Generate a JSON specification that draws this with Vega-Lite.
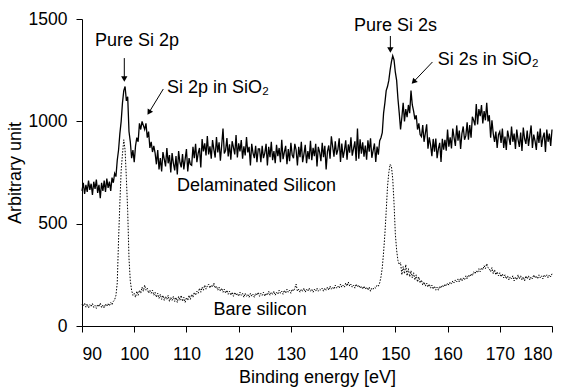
{
  "$schema": "https://vega.github.io/schema/vega-lite/v6.json",
  "width": 470,
  "height": 307,
  "autosize": {"type": "none"},
  "padding": {"left": 82, "top": 19, "right": 16, "bottom": 63},
  "background": "white",
  "config": {
    "view": {"stroke": null},
    "font": "Liberation Sans",
    "axis": {
      "domainColor": "black", "tickColor": "black", "labelColor": "black", "titleColor": "black",
      "labelFont": "Liberation Sans", "titleFont": "Liberation Sans",
      "labelFontSize": 17.5, "titleFontSize": 18, "titleFontWeight": "normal",
      "grid": false, "tickSize": 6, "domainWidth": 1, "tickWidth": 1
    }
  },
  "datasets": {
    "xps": [
      {"e":90,"d":660,"b":105},{"e":90.25,"d":700,"b":96},{"e":90.5,"d":645,"b":112},{"e":90.75,"d":690,"b":92},
      {"e":91,"d":655,"b":108},{"e":91.25,"d":710,"b":88},{"e":91.5,"d":665,"b":104},{"e":91.75,"d":695,"b":95},
      {"e":92,"d":640,"b":110},{"e":92.25,"d":705,"b":90},{"e":92.5,"d":670,"b":100},{"e":92.75,"d":715,"b":86},
      {"e":93,"d":650,"b":106},{"e":93.25,"d":690,"b":94},{"e":93.5,"d":625,"b":112},{"e":93.75,"d":700,"b":90},
      {"e":94,"d":660,"b":102},{"e":94.25,"d":710,"b":88},{"e":94.5,"d":655,"b":108},{"e":94.75,"d":720,"b":96},
      {"e":95,"d":675,"b":110},{"e":95.25,"d":705,"b":98},{"e":95.5,"d":660,"b":115},{"e":95.75,"d":725,"b":104},
      {"e":96,"d":700,"b":120},{"e":96.25,"d":745,"b":128},{"e":96.5,"d":730,"b":150},{"e":96.75,"d":810,"b":210},
      {"e":97,"d":860,"b":420},{"e":97.25,"d":940,"b":600},{"e":97.5,"d":1000,"b":760},{"e":97.75,"d":1090,"b":840},
      {"e":98,"d":1150,"b":910},{"e":98.25,"d":1170,"b":860},{"e":98.5,"d":1100,"b":720},{"e":98.75,"d":1120,"b":560},
      {"e":99,"d":950,"b":330},{"e":99.25,"d":900,"b":220},{"e":99.5,"d":820,"b":175},{"e":99.75,"d":860,"b":150},
      {"e":100,"d":800,"b":160},{"e":100.25,"d":880,"b":140},{"e":100.5,"d":920,"b":170},{"e":100.75,"d":900,"b":150},
      {"e":101,"d":990,"b":175},{"e":101.25,"d":960,"b":160},{"e":101.5,"d":1000,"b":190},{"e":101.75,"d":980,"b":170},
      {"e":102,"d":960,"b":200},{"e":102.25,"d":990,"b":175},{"e":102.5,"d":920,"b":185},{"e":102.75,"d":950,"b":160},
      {"e":103,"d":870,"b":175},{"e":103.25,"d":900,"b":160},{"e":103.5,"d":850,"b":175},{"e":103.75,"d":880,"b":150},
      {"e":104,"d":845,"b":165},{"e":104.25,"d":790,"b":140},{"e":104.5,"d":860,"b":160},{"e":104.75,"d":765,"b":135},
      {"e":105,"d":820,"b":155},{"e":105.25,"d":755,"b":130},{"e":105.5,"d":850,"b":150},{"e":105.75,"d":815,"b":125},
      {"e":106,"d":780,"b":145},{"e":106.25,"d":870,"b":130},{"e":106.5,"d":795,"b":150},{"e":106.75,"d":835,"b":120},
      {"e":107,"d":750,"b":140},{"e":107.25,"d":845,"b":125},{"e":107.5,"d":795,"b":145},{"e":107.75,"d":760,"b":120},
      {"e":108,"d":830,"b":140},{"e":108.25,"d":740,"b":115},{"e":108.5,"d":855,"b":145},{"e":108.75,"d":800,"b":125},
      {"e":109,"d":775,"b":150},{"e":109.25,"d":840,"b":120},{"e":109.5,"d":765,"b":140},{"e":109.75,"d":815,"b":115},
      {"e":110,"d":865,"b":140},{"e":110.25,"d":755,"b":125},{"e":110.5,"d":820,"b":150},{"e":110.75,"d":790,"b":130},
      {"e":111,"d":785,"b":155},{"e":111.25,"d":875,"b":140},{"e":111.5,"d":820,"b":165},{"e":111.75,"d":890,"b":150},
      {"e":112,"d":800,"b":170},{"e":112.25,"d":845,"b":160},{"e":112.5,"d":870,"b":185},{"e":112.75,"d":775,"b":165},
      {"e":113,"d":913,"b":190},{"e":113.25,"d":853,"b":175},{"e":113.5,"d":893,"b":200},{"e":113.75,"d":833,"b":180},
      {"e":114,"d":928,"b":195},{"e":114.25,"d":838,"b":205},{"e":114.5,"d":878,"b":185},{"e":114.75,"d":818,"b":200},
      {"e":115,"d":908,"b":190},{"e":115.25,"d":863,"b":210},{"e":115.5,"d":823,"b":185},{"e":115.75,"d":923,"b":195},
      {"e":116,"d":848,"b":175},{"e":116.25,"d":898,"b":190},{"e":116.5,"d":808,"b":170},{"e":116.75,"d":883,"b":185},
      {"e":117,"d":965,"b":165},{"e":117.25,"d":843,"b":180},{"e":117.5,"d":858,"b":160},{"e":117.75,"d":918,"b":175},
      {"e":118,"d":828,"b":155},{"e":118.25,"d":888,"b":170},{"e":118.5,"d":813,"b":150},{"e":118.75,"d":903,"b":165},
      {"e":119,"d":873,"b":145},{"e":119.25,"d":838,"b":165},{"e":119.5,"d":933,"b":150},{"e":119.75,"d":823,"b":160},
      {"e":120,"d":893,"b":145},{"e":120.25,"d":853,"b":165},{"e":120.5,"d":908,"b":150},{"e":120.75,"d":818,"b":160},
      {"e":121,"d":878,"b":140},{"e":121.25,"d":833,"b":160},{"e":121.5,"d":923,"b":145},{"e":121.75,"d":848,"b":155},
      {"e":122,"d":875,"b":140},{"e":122.25,"d":785,"b":160},{"e":122.5,"d":890,"b":145},{"e":122.75,"d":845,"b":155},
      {"e":123,"d":820,"b":140},{"e":123.25,"d":880,"b":160},{"e":123.5,"d":800,"b":150},{"e":123.75,"d":865,"b":165},
      {"e":124,"d":865,"b":145},{"e":124.25,"d":800,"b":160},{"e":124.5,"d":880,"b":150},{"e":124.75,"d":820,"b":165},
      {"e":125,"d":845,"b":145},{"e":125.25,"d":890,"b":160},{"e":125.5,"d":785,"b":150},{"e":125.75,"d":875,"b":170},
      {"e":126,"d":825,"b":150},{"e":126.25,"d":900,"b":165},{"e":126.5,"d":810,"b":155},{"e":126.75,"d":855,"b":170},
      {"e":127,"d":795,"b":150},{"e":127.25,"d":885,"b":165},{"e":127.5,"d":830,"b":155},{"e":127.75,"d":870,"b":175},
      {"e":128,"d":800,"b":160},{"e":128.25,"d":910,"b":170},{"e":128.5,"d":815,"b":155},{"e":128.75,"d":850,"b":175},
      {"e":129,"d":880,"b":160},{"e":129.25,"d":790,"b":180},{"e":129.5,"d":865,"b":165},{"e":129.75,"d":805,"b":175},
      {"e":130,"d":895,"b":160},{"e":130.25,"d":835,"b":180},{"e":130.5,"d":820,"b":170},{"e":130.75,"d":890,"b":185},
      {"e":131,"d":860,"b":205},{"e":131.25,"d":785,"b":170},{"e":131.5,"d":875,"b":180},{"e":131.75,"d":825,"b":165},
      {"e":132,"d":900,"b":180},{"e":132.25,"d":800,"b":170},{"e":132.5,"d":840,"b":185},{"e":132.75,"d":885,"b":165},
      {"e":133,"d":795,"b":180},{"e":133.25,"d":855,"b":170},{"e":133.5,"d":815,"b":185},{"e":133.75,"d":905,"b":170},
      {"e":134,"d":810,"b":180},{"e":134.25,"d":870,"b":165},{"e":134.5,"d":830,"b":180},{"e":134.75,"d":890,"b":170},
      {"e":135,"d":780,"b":185},{"e":135.25,"d":875,"b":170},{"e":135.5,"d":850,"b":180},{"e":135.75,"d":805,"b":175},
      {"e":136,"d":895,"b":185},{"e":136.25,"d":825,"b":170},{"e":136.5,"d":880,"b":185},{"e":136.75,"d":765,"b":175},
      {"e":137,"d":852,"b":190},{"e":137.25,"d":882,"b":175},{"e":137.5,"d":817,"b":195},{"e":137.75,"d":927,"b":180},
      {"e":138,"d":877,"b":190},{"e":138.25,"d":827,"b":180},{"e":138.5,"d":902,"b":200},{"e":138.75,"d":837,"b":185},
      {"e":139,"d":862,"b":195},{"e":139.25,"d":917,"b":185},{"e":139.5,"d":802,"b":205},{"e":139.75,"d":892,"b":190},
      {"e":140,"d":822,"b":200},{"e":140.25,"d":857,"b":190},{"e":140.5,"d":907,"b":210},{"e":140.75,"d":812,"b":195},
      {"e":141,"d":887,"b":215},{"e":141.25,"d":847,"b":195},{"e":141.5,"d":922,"b":205},{"e":141.75,"d":832,"b":190},
      {"e":142,"d":867,"b":200},{"e":142.25,"d":902,"b":185},{"e":142.5,"d":807,"b":205},{"e":142.75,"d":965,"b":190},
      {"e":143,"d":817,"b":200},{"e":143.25,"d":912,"b":185},{"e":143.5,"d":842,"b":195},{"e":143.75,"d":897,"b":180},
      {"e":144,"d":827,"b":195},{"e":144.25,"d":882,"b":180},{"e":144.5,"d":812,"b":190},{"e":144.75,"d":907,"b":175},
      {"e":145,"d":852,"b":190},{"e":145.25,"d":917,"b":170},{"e":145.5,"d":822,"b":185},{"e":145.75,"d":857,"b":180},
      {"e":146,"d":892,"b":190},{"e":146.25,"d":802,"b":185},{"e":146.5,"d":877,"b":200},{"e":146.75,"d":837,"b":195},
      {"e":147,"d":905,"b":210},{"e":147.25,"d":920,"b":240},{"e":147.5,"d":945,"b":285},{"e":147.75,"d":1040,"b":360},
      {"e":148,"d":1090,"b":450},{"e":148.25,"d":1150,"b":560},{"e":148.5,"d":1170,"b":680},{"e":148.75,"d":1200,"b":750},
      {"e":149,"d":1250,"b":790},{"e":149.25,"d":1290,"b":780},{"e":149.5,"d":1320,"b":720},{"e":149.75,"d":1300,"b":600},
      {"e":150,"d":1240,"b":450},{"e":150.25,"d":1200,"b":370},{"e":150.5,"d":1110,"b":320},{"e":150.75,"d":1040,"b":300},
      {"e":151,"d":960,"b":310},{"e":151.25,"d":1020,"b":250},{"e":151.5,"d":1090,"b":290},{"e":151.75,"d":1000,"b":255},
      {"e":152,"d":1060,"b":300},{"e":152.25,"d":1020,"b":245},{"e":152.5,"d":1080,"b":280},{"e":152.75,"d":1040,"b":240},
      {"e":153,"d":1150,"b":270},{"e":153.25,"d":1080,"b":235},{"e":153.5,"d":1050,"b":260},{"e":153.75,"d":1010,"b":225},
      {"e":154,"d":1030,"b":250},{"e":154.25,"d":960,"b":215},{"e":154.5,"d":990,"b":240},{"e":154.75,"d":935,"b":210},
      {"e":155,"d":925,"b":225},{"e":155.25,"d":982,"b":200},{"e":155.5,"d":900,"b":215},{"e":155.75,"d":942,"b":195},
      {"e":156,"d":985,"b":210},{"e":156.25,"d":866,"b":190},{"e":156.5,"d":922,"b":205},{"e":156.75,"d":884,"b":185},
      {"e":157,"d":830,"b":200},{"e":157.25,"d":914,"b":180},{"e":157.5,"d":852,"b":195},{"e":157.75,"d":916,"b":175},
      {"e":158,"d":820,"b":190},{"e":158.25,"d":867,"b":175},{"e":158.5,"d":895,"b":195},{"e":158.75,"d":802,"b":185},
      {"e":159,"d":915,"b":200},{"e":159.25,"d":862,"b":190},{"e":159.5,"d":910,"b":205},{"e":159.75,"d":857,"b":195},
      {"e":160,"d":960,"b":210},{"e":160.25,"d":876,"b":200},{"e":160.5,"d":922,"b":215},{"e":160.75,"d":868,"b":205},
      {"e":161,"d":965,"b":220},{"e":161.25,"d":920,"b":210},{"e":161.5,"d":880,"b":225},{"e":161.75,"d":980,"b":215},
      {"e":162,"d":905,"b":230},{"e":162.25,"d":955,"b":215},{"e":162.5,"d":865,"b":235},{"e":162.75,"d":940,"b":220},
      {"e":163,"d":975,"b":235},{"e":163.25,"d":910,"b":225},{"e":163.5,"d":930,"b":245},{"e":163.75,"d":995,"b":230},
      {"e":164,"d":910,"b":250},{"e":164.25,"d":982,"b":240},{"e":164.5,"d":920,"b":255},{"e":164.75,"d":1022,"b":245},
      {"e":165,"d":1005,"b":265},{"e":165.25,"d":980,"b":255},{"e":165.5,"d":1085,"b":270},{"e":165.75,"d":985,"b":260},
      {"e":166,"d":1060,"b":280},{"e":166.25,"d":1025,"b":265},{"e":166.5,"d":1080,"b":285},{"e":166.75,"d":990,"b":275},
      {"e":167,"d":1050,"b":295},{"e":167.25,"d":1005,"b":280},{"e":167.5,"d":1090,"b":305},{"e":167.75,"d":1000,"b":285},
      {"e":168,"d":1030,"b":280},{"e":168.25,"d":920,"b":265},{"e":168.5,"d":1005,"b":285},{"e":168.75,"d":940,"b":255},
      {"e":169,"d":900,"b":275},{"e":169.25,"d":950,"b":250},{"e":169.5,"d":870,"b":265},{"e":169.75,"d":935,"b":245},
      {"e":170,"d":950,"b":260},{"e":170.25,"d":895,"b":240},{"e":170.5,"d":965,"b":255},{"e":170.75,"d":870,"b":235},
      {"e":171,"d":925,"b":250},{"e":171.25,"d":860,"b":230},{"e":171.5,"d":955,"b":245},{"e":171.75,"d":920,"b":225},
      {"e":172,"d":885,"b":240},{"e":172.25,"d":975,"b":230},{"e":172.5,"d":900,"b":245},{"e":172.75,"d":940,"b":220},
      {"e":173,"d":865,"b":240},{"e":173.25,"d":960,"b":225},{"e":173.5,"d":910,"b":250},{"e":173.75,"d":875,"b":230},
      {"e":174,"d":945,"b":245},{"e":174.25,"d":855,"b":225},{"e":174.5,"d":970,"b":240},{"e":174.75,"d":915,"b":220},
      {"e":175,"d":890,"b":245},{"e":175.25,"d":955,"b":230},{"e":175.5,"d":880,"b":245},{"e":175.75,"d":930,"b":225},
      {"e":176,"d":980,"b":240},{"e":176.25,"d":870,"b":230},{"e":176.5,"d":935,"b":250},{"e":176.75,"d":905,"b":235},
      {"e":177,"d":860,"b":245},{"e":177.25,"d":950,"b":230},{"e":177.5,"d":895,"b":250},{"e":177.75,"d":965,"b":235},
      {"e":178,"d":875,"b":245},{"e":178.25,"d":920,"b":230},{"e":178.5,"d":945,"b":250},{"e":178.75,"d":850,"b":240},
      {"e":179,"d":960,"b":250},{"e":179.25,"d":900,"b":235},{"e":179.5,"d":940,"b":250},{"e":179.75,"d":880,"b":240},
      {"e":180,"d":960,"b":255}
    ],
    "labels": [
      {"t":"Pure Si 2p","x":100.54,"y":1370,"a":"center"},
      {"t":"Si 2p in SiO₂","x":106.28,"y":1140,"a":"left"},
      {"t":"Pure Si 2s","x":150.02,"y":1443,"a":"center"},
      {"t":"Si 2s in SiO₂","x":158.12,"y":1275,"a":"left"},
      {"t":"Delaminated Silicon","x":108.2,"y":660,"a":"left"},
      {"t":"Bare silicon","x":115.2,"y":54,"a":"left"}
    ],
    "arrows": [
      {"k":"p","x":98.1,"y":1309,"x2":98.1,"y2":1207},
      {"k":"po","x":105.57,"y":1158,"x2":102.82,"y2":1043},
      {"k":"s","x":149.05,"y":1417,"x2":149.05,"y2":1348},
      {"k":"so","x":157.11,"y":1290,"x2":153.49,"y2":1193}
    ]
  },
  "layer": [
    {
      "data": {"name": "xps"},
      "mark": {"type": "line", "color": "black", "strokeWidth": 1, "strokeDash": [1.5, 1.5]},
      "encoding": {
        "x": {"field": "e", "type": "quantitative", "scale": {"domain": [90, 180], "nice": false},
              "axis": {"values": [90,100,110,120,130,140,150,160,170,180], "title": "Binding energy [eV]", "labelPadding": 13, "titlePadding": 6}},
        "y": {"field": "b", "type": "quantitative", "scale": {"domain": [0, 1500], "nice": false},
              "axis": {"values": [0,500,1000,1500], "format": "d", "title": "Arbitrary unit", "labelPadding": 9, "titlePadding": 4}}
      }
    },
    {
      "data": {"name": "xps"},
      "mark": {"type": "line", "color": "black", "strokeWidth": 1.3},
      "encoding": {
        "x": {"field": "e", "type": "quantitative"},
        "y": {"field": "d", "type": "quantitative"}
      }
    },
    {
      "data": {"name": "arrows"},
      "mark": {"type": "rule", "color": "black", "strokeWidth": 1},
      "encoding": {
        "x": {"field": "x", "type": "quantitative"},
        "y": {"field": "y", "type": "quantitative"},
        "x2": {"field": "x2"},
        "y2": {"field": "y2"}
      }
    },
    {
      "data": {"name": "arrows"},
      "transform": [{"filter": "datum.k == 'p' || datum.k == 's'"}],
      "mark": {"type": "point", "shape": "triangle-down", "filled": true, "color": "black", "size": 40, "opacity": 1},
      "encoding": {
        "x": {"field": "x2", "type": "quantitative"},
        "y": {"field": "y2", "type": "quantitative"}
      }
    },
    {
      "data": {"name": "arrows"},
      "transform": [{"filter": "datum.k == 'po'"}],
      "mark": {"type": "point", "shape": "triangle-up", "filled": true, "color": "black", "size": 40, "angle": 211.6, "opacity": 1},
      "encoding": {
        "x": {"field": "x2", "type": "quantitative"},
        "y": {"field": "y2", "type": "quantitative"}
      }
    },
    {
      "data": {"name": "arrows"},
      "transform": [{"filter": "datum.k == 'so'"}],
      "mark": {"type": "point", "shape": "triangle-up", "filled": true, "color": "black", "size": 40, "angle": 223.7, "opacity": 1},
      "encoding": {
        "x": {"field": "x2", "type": "quantitative"},
        "y": {"field": "y2", "type": "quantitative"}
      }
    },
    {
      "data": {"name": "labels"},
      "transform": [{"filter": "datum.a == 'center'"}],
      "mark": {"type": "text", "align": "center", "baseline": "alphabetic", "fontSize": 18, "color": "black", "font": "Liberation Sans"},
      "encoding": {
        "x": {"field": "x", "type": "quantitative"},
        "y": {"field": "y", "type": "quantitative"},
        "text": {"field": "t"}
      }
    },
    {
      "data": {"name": "labels"},
      "transform": [{"filter": "datum.a == 'left'"}],
      "mark": {"type": "text", "align": "left", "baseline": "alphabetic", "fontSize": 18, "color": "black", "font": "Liberation Sans"},
      "encoding": {
        "x": {"field": "x", "type": "quantitative"},
        "y": {"field": "y", "type": "quantitative"},
        "text": {"field": "t"}
      }
    }
  ]
}
